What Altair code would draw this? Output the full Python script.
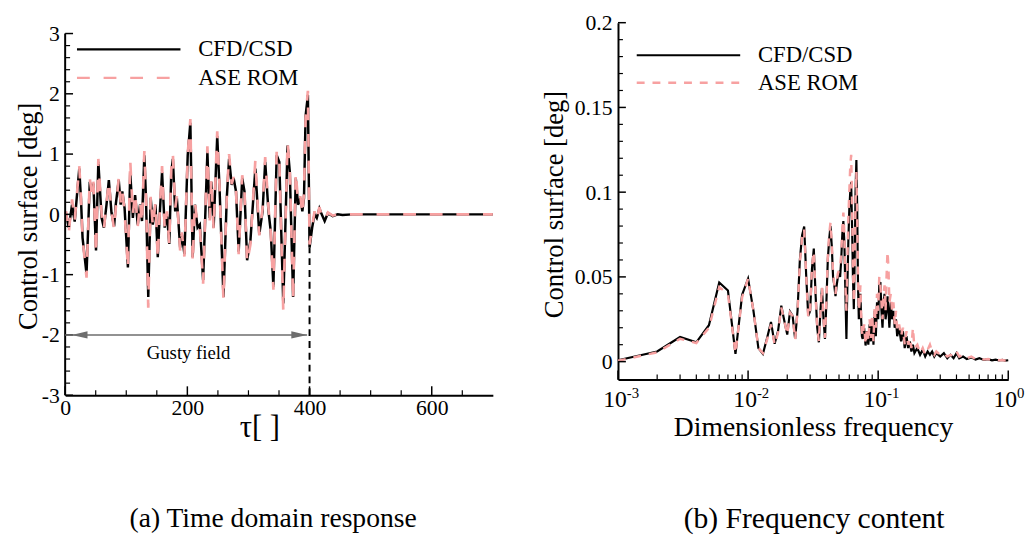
import altair as alt
import pandas as pd

# ---------------- data ----------------
# (a) time-domain response: tau, CFD/CSD, ASE ROM
tau = [0, 1.6, 5.9, 11.3, 15.6, 23.1, 25.8, 28.5, 35.0, 40.3, 43.5, 46.2, 50.5, 54.3,
       59.7, 63.4, 67.7, 71.5, 75.8, 80.1, 82.8, 87.7, 90.9, 93.5, 97.3, 102.7, 106.5,
       110.8, 114.5, 118.8, 122.6, 125.8, 129.6, 132.3, 136.0, 140.0, 143.5, 147.8,
       151.6, 154.8, 158.6, 162.9, 166.7, 170.4, 173.7, 176.3, 180.1, 182.8, 188.2,
       190.9, 195.2, 200.6, 204.9, 208.7, 212.4, 216.7, 220.4, 225.8, 232.8, 236.6,
       239.2, 243.0, 248.9, 252.7, 259.1, 264.5, 268.3, 272.6, 275.8, 279.6, 284.0,
       289.8, 293.5, 297.8, 303.2, 311.3, 317.7, 323.1, 327.4, 332.8, 336.5, 340.8,
       346.2, 350.5, 357.0, 364.0, 367.7, 373.1, 377.4, 381.2, 385.0, 388.2, 390.9,
       393.5, 397.3, 400.0, 404.3, 408.1, 411.8, 416.1, 419.9, 424.7, 430.0, 438.0,
       446.0, 454.0, 470.0, 700.0]
cfd_time = [0.0, 0.0, -0.22, 0.16, -0.12, 0.76, 0.27, -0.39, -0.99, 0.54, 0.38, 0.51, -0.60, 0.87,
            -0.06, -0.22, 0.16, 0.57, 0.03, -0.20, 0.16, 0.57, 0.16, 0.38, 0.10, -0.88, 0.70,
            -0.06, 0.32, -0.17, 0.16, -0.11, 0.98, 0.27, -1.37, 0.27, -0.17, 0.16,
            -0.71, 0.00, 0.70, -0.22, 0.00, -0.49, 0.70, 0.92, 0.05, 0.27, -0.55,
            -0.33, -0.66, 0.98, 1.52, -0.71, 0.16, -0.22, -0.17, -1.09, 1.03, -0.06,
            0.54, -0.22, 1.30, 0.43, -1.37, 0.27, 0.92, 0.49, 0.60, 0.38, -0.62,
            0.60, 0.38, -0.76, -0.44, 0.76, -0.33, 0.05, 0.87, 0.05, -0.28, -1.20,
            0.98, 0.87, -1.48, 1.14, 0.70, -1.37, 0.60, 0.16, 0.27, 0.05, 0.27,
            1.63, 1.98, -0.55, -0.22, 0.00, -0.06, 0.10, 0.00, -0.11, 0.02, -0.03,
            0.00, -0.01, 0.00, 0.00]
rom_time = [0.0, 0.05, -0.30, 0.25, -0.10, 0.80, 0.30, -0.40, -1.05, 0.60, 0.35, 0.55, -0.65, 0.92,
            0.00, -0.25, 0.20, 0.55, 0.05, -0.25, 0.10, 0.60, 0.20, 0.40, 0.05, -0.90, 0.90,
            0.00, 0.35, -0.20, 0.20, -0.15, 1.05, 0.30, -1.55, 0.30, -0.20, 0.20,
            -0.75, 0.05, 0.80, -0.25, 0.05, -0.50, 0.75, 1.00, 0.10, 0.30, -0.60,
            -0.30, -0.70, 1.00, 1.58, -0.80, 0.20, -0.20, -0.20, -1.15, 1.13, -0.10,
            0.60, -0.25, 1.38, 0.45, -1.42, 0.30, 1.00, 0.50, 0.62, 0.40, -0.66,
            0.65, 0.40, -0.80, -0.50, 0.90, -0.35, 0.10, 0.95, 0.10, -0.30, -1.25,
            1.05, 0.90, -1.60, 1.20, 0.75, -1.43, 0.70, 0.20, 0.30, 0.00, 0.35,
            1.60, 2.05, -0.50, -0.20, 0.05, -0.10, 0.12, -0.03, -0.10, 0.03, -0.02,
            0.00, 0.00, 0.00, 0.00]

# (b) frequency content: dimensionless frequency, CFD/CSD, ASE ROM
freq = [0.001, 0.002, 0.003, 0.004, 0.005, 0.006, 0.007, 0.008, 0.009, 0.010,
        0.011, 0.012, 0.013, 0.014, 0.015, 0.016, 0.017, 0.018, 0.019, 0.020,
        0.021, 0.022, 0.023, 0.024, 0.025, 0.026, 0.027, 0.028, 0.029, 0.030,
        0.031, 0.032, 0.033, 0.034, 0.035, 0.036, 0.037, 0.038, 0.039, 0.040,
        0.041, 0.042, 0.043, 0.044, 0.045, 0.046, 0.047, 0.048, 0.049, 0.050,
        0.051, 0.052, 0.053, 0.054, 0.055, 0.056, 0.057, 0.058, 0.059, 0.060,
        0.061, 0.062, 0.063, 0.064, 0.065, 0.066, 0.067, 0.068, 0.069, 0.070,
        0.071, 0.072, 0.073, 0.074, 0.075, 0.076, 0.078, 0.080, 0.082, 0.084,
        0.086, 0.088, 0.090, 0.092, 0.094, 0.096, 0.098, 0.100, 0.102, 0.104,
        0.106, 0.108, 0.110, 0.112, 0.114, 0.116, 0.118, 0.120, 0.122, 0.125,
        0.128, 0.131, 0.134, 0.137, 0.140, 0.145, 0.150, 0.155, 0.160, 0.165,
        0.170, 0.175, 0.180, 0.185, 0.190, 0.200, 0.21, 0.22, 0.23, 0.24,
        0.25, 0.26, 0.27, 0.28, 0.30, 0.32, 0.34, 0.36, 0.38, 0.40,
        0.42, 0.45, 0.48, 0.52, 0.56, 0.60, 0.65, 0.70, 0.75, 0.80,
        0.85, 0.90, 0.95, 1.0]
cfd_freq = [0.0008, 0.006, 0.0145, 0.0114, 0.0215, 0.0467, 0.042, 0.0046, 0.0395, 0.049,
            0.030, 0.008, 0.0046, 0.014, 0.0234, 0.0105, 0.018, 0.033, 0.024, 0.016,
            0.0295, 0.027, 0.0134, 0.030, 0.060, 0.0744, 0.0797, 0.050, 0.027, 0.030,
            0.055, 0.0667, 0.040, 0.020, 0.0114, 0.030, 0.0434, 0.025, 0.0134, 0.035,
            0.060, 0.072, 0.080, 0.068, 0.050, 0.045, 0.0386, 0.045, 0.050, 0.052,
            0.050, 0.060, 0.075, 0.083, 0.070, 0.040, 0.0134, 0.045, 0.0715, 0.090,
            0.100, 0.106, 0.080, 0.050, 0.031, 0.060, 0.100, 0.119, 0.090, 0.045,
            0.025, 0.030, 0.040, 0.025, 0.015, 0.0134, 0.020, 0.0095, 0.018, 0.010,
            0.022, 0.012, 0.025, 0.010, 0.030, 0.015, 0.035, 0.025, 0.045, 0.047,
            0.030, 0.020, 0.035, 0.040, 0.025, 0.030, 0.0385, 0.030, 0.020, 0.035,
            0.025, 0.030, 0.020, 0.025, 0.015, 0.020, 0.012, 0.018, 0.008, 0.015,
            0.008, 0.012, 0.006, 0.010, 0.005, 0.008, 0.004, 0.007, 0.003, 0.006,
            0.004, 0.006, 0.003, 0.005, 0.003, 0.005, 0.002, 0.004, 0.002, 0.005,
            0.002, 0.003, 0.0015, 0.0025, 0.0012, 0.002, 0.001, 0.0015, 0.0008, 0.0012,
            0.0007, 0.001, 0.0006, 0.0008]
rom_freq = [0.0005, 0.0055, 0.0135, 0.011, 0.020, 0.044, 0.040, 0.005, 0.038, 0.049,
            0.030, 0.008, 0.005, 0.013, 0.022, 0.010, 0.017, 0.032, 0.024, 0.016,
            0.029, 0.027, 0.013, 0.030, 0.058, 0.073, 0.078, 0.050, 0.026, 0.031,
            0.056, 0.065, 0.040, 0.020, 0.012, 0.030, 0.044, 0.025, 0.014, 0.036,
            0.062, 0.075, 0.082, 0.070, 0.052, 0.046, 0.040, 0.047, 0.052, 0.054,
            0.056, 0.063, 0.078, 0.088, 0.075, 0.045, 0.030, 0.060, 0.085, 0.100,
            0.115, 0.122, 0.095, 0.055, 0.035, 0.055, 0.095, 0.112, 0.085, 0.050,
            0.030, 0.035, 0.045, 0.028, 0.018, 0.015, 0.022, 0.010, 0.020, 0.012,
            0.025, 0.014, 0.028, 0.012, 0.033, 0.020, 0.040, 0.030, 0.050, 0.045,
            0.035, 0.025, 0.040, 0.045, 0.030, 0.050, 0.065, 0.055, 0.035, 0.040,
            0.030, 0.035, 0.022, 0.030, 0.018, 0.022, 0.015, 0.020, 0.010, 0.018,
            0.010, 0.014, 0.008, 0.020, 0.008, 0.010, 0.005, 0.008, 0.004, 0.007,
            0.010, 0.006, 0.004, 0.006, 0.004, 0.005, 0.003, 0.004, 0.003, 0.006,
            0.003, 0.004, 0.002, 0.003, 0.0015, 0.002, 0.0012, 0.0015, 0.001, 0.0012,
            0.0008, 0.001, 0.0007, 0.0008]

series_names = ["CFD/CSD", "ASE ROM"]
left_x_ticks = [0, 200, 400, 600]
left_x_minor = [50, 100, 150, 250, 300, 350, 450, 500, 550, 650]
left_y_ticks = [-3, -2, -1, 0, 1, 2, 3]
left_y_minor = [round(-3 + 0.2 * i, 1) for i in range(31) if i % 5 != 0]
right_y_ticks = [0, 0.05, 0.1, 0.15, 0.2]
right_y_minor = [round(0.01 * i, 2) for i in range(1, 20) if i % 5 != 0]
right_x_ticks = [0.001, 0.01, 0.1, 1.0]
right_x_exps = ["-3", "-2", "-1", "0"]
right_x_minor = [k * 10.0 ** d for d in (-3, -2, -1) for k in range(2, 10)]
gust = {"start": [0], "end": [396], "level": [-2], "mid": [202], "text_y": [-2.3]}
gust_label = "Gusty field"
gust_cut = {"x": [400], "bottom": [-3], "top": [-0.55]}
captions = ["(a) Time domain response", "(b) Frequency content"]

# ---------------- style ----------------
FONT = "Liberation Serif"
BLACK = "#000000"
PINK = "#F7A1A1"
GRAY = "#6E6E6E"

assert len(tau) == len(cfd_time) == len(rom_time)
assert len(freq) == len(cfd_freq) == len(rom_freq)

# ---------------- left panel ----------------
W1, H1 = 434, 378
TOP_GAP = 11
ytop1 = 3 + TOP_GAP * 6 / (H1 - TOP_GAP)
xs1 = alt.Scale(domain=[0, 700], nice=False, zero=False)
ys1 = alt.Scale(domain=[-3, ytop1], nice=False, zero=False)

df_t = pd.DataFrame({"tau": tau, "cfd": cfd_time, "rom": rom_time})

xaxis1 = alt.Axis(values=left_x_ticks, ticks=False, grid=False, domainColor=BLACK,
                  domainWidth=2, labelFont=FONT, labelFontSize=22, labelColor=BLACK,
                  labelPadding=3, labelFlush=False, title="τ[ ]", titleFont=FONT,
                  titleFontSize=31, titleFontWeight="normal", titleColor=BLACK,
                  titleX=197, titleY=33, titleBaseline="middle", titleAlign="center")
yaxis1 = alt.Axis(values=left_y_ticks, domain=False, ticks=False, grid=False,
                  labelExpr="datum.value + ''", labelFont=FONT, labelFontSize=22,
                  labelColor=BLACK, labelPadding=6, labelFlush=False,
                  title="Control surface [deg]", titleFont=FONT, titleFontSize=27,
                  titleFontWeight="normal", titleColor=BLACK, titleX=-37, titleY=196,
                  titleAngle=270, titleBaseline="middle", titleAlign="center")


def X1(field):
    return alt.X(field, type="quantitative", scale=xs1, axis=xaxis1)


def Y1(field):
    return alt.Y(field, type="quantitative", scale=ys1, axis=yaxis1)


cfd_line1 = alt.Chart(df_t).mark_line(color=BLACK, strokeWidth=2.5).encode(
    x=X1("tau"), y=Y1("cfd"))
rom_line1 = alt.Chart(df_t).mark_line(color=PINK, strokeWidth=2.7, strokeDash=[13, 14]).encode(
    x=X1("tau"), y=Y1("rom"))

yline1 = alt.Chart(pd.DataFrame({"lo": [-3], "hi": [3]})).mark_rule(
    color=BLACK, strokeWidth=2).encode(x=alt.value(0), y=Y1("lo"), y2="hi:Q")
ymaj1 = alt.Chart(pd.DataFrame({"v": left_y_ticks})).mark_rule(color=BLACK, strokeWidth=1.5).encode(
    y=Y1("v"), x=alt.value(0), x2=alt.value(8))
ymin1 = alt.Chart(pd.DataFrame({"v": left_y_minor})).mark_rule(color=BLACK, strokeWidth=1.2).encode(
    y=Y1("v"), x=alt.value(0), x2=alt.value(5))
xmaj1 = alt.Chart(pd.DataFrame({"v": left_x_ticks})).mark_rule(color=BLACK, strokeWidth=1.5).encode(
    x=X1("v"), y=alt.value(H1), y2=alt.value(H1 - 9))
xmin1 = alt.Chart(pd.DataFrame({"v": left_x_minor})).mark_rule(color=BLACK, strokeWidth=1.2).encode(
    x=X1("v"), y=alt.value(H1), y2=alt.value(H1 - 5))

gdf = pd.DataFrame(gust)
gust_line = alt.Chart(gdf).mark_rule(color=GRAY, strokeWidth=1.5).encode(
    x=X1("start"), x2="end:Q", y=Y1("level"))
gust_left = alt.Chart(gdf).mark_point(shape="M-1,0L1,-0.45L1,0.45Z", filled=True, size=256,
                                      color=GRAY, opacity=1).encode(
    x=X1("start"), y=Y1("level"), xOffset=alt.value(14.7))
gust_right = alt.Chart(gdf).mark_point(shape="M1,0L-1,-0.45L-1,0.45Z", filled=True, size=256,
                                       color=GRAY, opacity=1).encode(
    x=X1("end"), y=Y1("level"), xOffset=alt.value(-8))
gust_text = alt.Chart(gdf).mark_text(text=gust_label, font=FONT, fontSize=19, color=BLACK,
                                     baseline="middle", align="center").encode(
    x=X1("mid"), y=Y1("text_y"))
cut = alt.Chart(pd.DataFrame(gust_cut)).mark_rule(color=BLACK, strokeWidth=2, strokeDash=[7, 5]).encode(
    x=X1("x"), y=Y1("bottom"), y2="top:Q")


def legend_layers(x0, x1, xt, y_a, y_b, dash):
    one = pd.DataFrame({"k": [0]})
    l1 = alt.Chart(one).mark_rule(color=BLACK, strokeWidth=2.2).encode(
        x=alt.value(x0), x2=alt.value(x1), y=alt.value(y_a))
    l2 = alt.Chart(one).mark_rule(color=PINK, strokeWidth=2.5, strokeDash=dash).encode(
        x=alt.value(x0), x2=alt.value(x1), y=alt.value(y_b))
    t1 = alt.Chart(one).mark_text(text=series_names[0], font=FONT, fontSize=23, color=BLACK,
                                  align="left", baseline="middle").encode(
        x=alt.value(xt), y=alt.value(y_a))
    t2 = alt.Chart(one).mark_text(text=series_names[1], font=FONT, fontSize=23, color=BLACK,
                                  align="left", baseline="middle").encode(
        x=alt.value(xt), y=alt.value(y_b))
    return [l1, l2, t1, t2]


def caption_layer(text, x, y, size):
    return alt.Chart(pd.DataFrame({"k": [0]})).mark_text(
        text=text, font=FONT, fontSize=size, color=BLACK, align="center", baseline="middle").encode(
        x=alt.value(x), y=alt.value(y))


left = alt.layer(
    cfd_line1, rom_line1,
    yline1, ymaj1, ymin1, xmaj1, xmin1,
    gust_line, gust_left, gust_right, gust_text, cut,
    *legend_layers(12, 117, 135, 27, 56, [13, 14]),
    caption_layer(captions[0], 211, 504, 28),
).properties(width=W1, height=H1)

# ---------------- right panel ----------------
W2, H2 = 396, 362
xs2 = alt.Scale(type="log", domain=[0.001, 1], nice=False)
ys2 = alt.Scale(domain=[-0.0105, 0.2], nice=False, zero=False)

df_f = pd.DataFrame({"f": freq, "cfd": cfd_freq, "rom": rom_freq})

xaxis2 = alt.Axis(ticks=False, labels=False, grid=False, domainColor=BLACK, domainWidth=2,
                  title="Dimensionless frequency", titleFont=FONT, titleFontSize=28,
                  titleFontWeight="normal", titleColor=BLACK, titleX=198, titleY=49,
                  titleBaseline="middle", titleAlign="center")
yaxis2 = alt.Axis(values=right_y_ticks, ticks=False, grid=False, domainColor=BLACK,
                  domainWidth=2, format="~g", labelFont=FONT, labelFontSize=22,
                  labelColor=BLACK, labelPadding=6, labelFlush=False,
                  title="Control surface [deg]", titleFont=FONT, titleFontSize=27,
                  titleFontWeight="normal", titleColor=BLACK, titleX=-64.5, titleY=184,
                  titleAngle=270, titleBaseline="middle", titleAlign="center")


def X2(field):
    return alt.X(field, type="quantitative", scale=xs2, axis=xaxis2)


def Y2(field):
    return alt.Y(field, type="quantitative", scale=ys2, axis=yaxis2)


cfd_line2 = alt.Chart(df_f).mark_line(color=BLACK, strokeWidth=2.2).encode(
    x=X2("f"), y=Y2("cfd"))
rom_line2 = alt.Chart(df_f).mark_line(color=PINK, strokeWidth=2.5, strokeDash=[8, 8]).encode(
    x=X2("f"), y=Y2("rom"))
ymaj2 = alt.Chart(pd.DataFrame({"v": right_y_ticks})).mark_rule(color=BLACK, strokeWidth=1.5).encode(
    y=Y2("v"), x=alt.value(0), x2=alt.value(8))
ymin2 = alt.Chart(pd.DataFrame({"v": right_y_minor})).mark_rule(color=BLACK, strokeWidth=1.2).encode(
    y=Y2("v"), x=alt.value(0), x2=alt.value(5))
xmaj2 = alt.Chart(pd.DataFrame({"v": right_x_ticks})).mark_rule(color=BLACK, strokeWidth=1.5).encode(
    x=X2("v"), y=alt.value(H2), y2=alt.value(H2 - 9))
xmin2 = alt.Chart(pd.DataFrame({"v": right_x_minor})).mark_rule(color=BLACK, strokeWidth=1.2).encode(
    x=X2("v"), y=alt.value(H2), y2=alt.value(H2 - 5))

dec_df = pd.DataFrame({"v": right_x_ticks, "e": right_x_exps})
dec_base = alt.Chart(dec_df).mark_text(text="10", font=FONT, fontSize=24, color=BLACK,
                                       align="center", baseline="middle", dx=-3).encode(
    x=X2("v"), y=alt.value(H2 + 21))
dec_exp = alt.Chart(dec_df).mark_text(font=FONT, fontSize=15, color=BLACK,
                                      align="left", baseline="middle", dx=9).encode(
    x=X2("v"), y=alt.value(H2 + 14), text="e:N")

right = alt.layer(
    cfd_line2, rom_line2,
    ymaj2, ymin2, xmaj2, xmin2,
    dec_base, dec_exp,
    *legend_layers(19, 124, 142, 33, 61, [8, 8]),
    caption_layer(captions[1], 199, 504, 30),
).properties(width=W2, height=H2)

chart = alt.hconcat(left, right, spacing=42).properties(
    padding={"left": 6, "top": 0, "right": 0, "bottom": 0},
    background="white",
).configure_view(stroke=None)

chart.save("out.html", embed_options={"renderer": "svg", "actions": False})
